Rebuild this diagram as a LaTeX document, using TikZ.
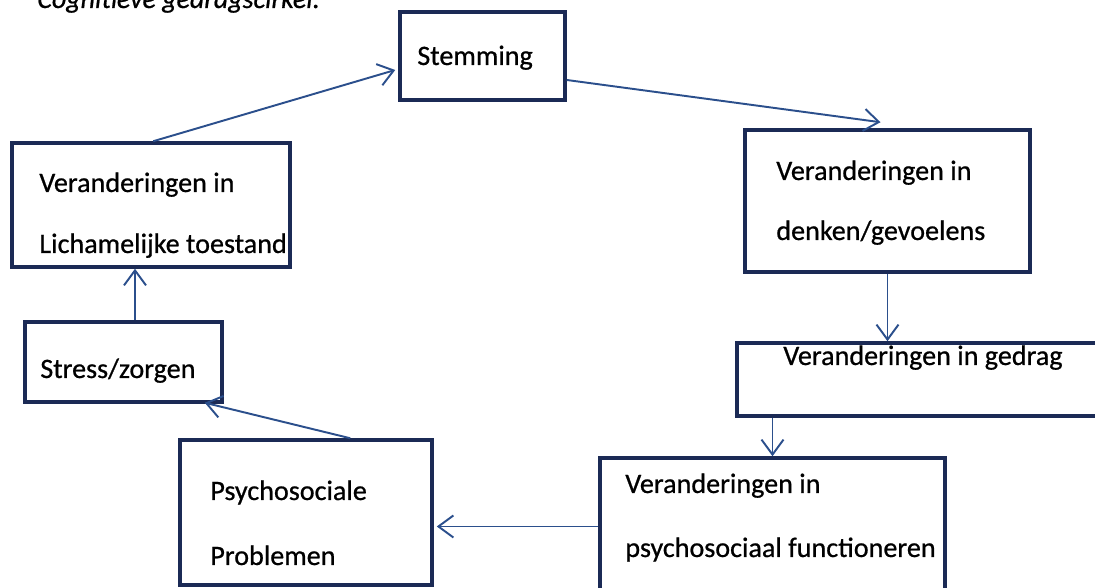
\documentclass[tikz,border=0pt]{standalone}
\usepackage{fontspec}
\setmainfont{Carlito}[FakeBold=0.7]
\usepackage{xcolor}
\usetikzlibrary{arrows.meta, positioning}
\definecolor{boxblue}{HTML}{1B2A55}
\definecolor{lineblue}{HTML}{2B4F8C}
\begin{document}
\begin{tikzpicture}[
    box/.style={rectangle, draw=boxblue, line width=2pt, inner sep=0pt},
    txt/.style={anchor=base west, inner sep=0pt, font=\fontsize{16}{19}\selectfont},
    flow/.style={-{Straight Barb[length=0.3cm, width=0.44cm]}, line width=1.1pt, lineblue}]
    \useasboundingbox (0,0) rectangle (21.9,11.76);
    \clip (0,0) rectangle (21.9,11.76);

    % title, cut off at the top
    \node[txt, font=\fontsize{15.9}{19}\selectfont\itshape] (title) at (0.74,11.6) {Cognitieve gedragscirkel:};

    % boxes
    \node[box, minimum width=3.3cm, minimum height=1.76cm] (stem) at (9.65,10.64) {};
    \node[box, minimum width=5.56cm, minimum height=2.48cm] (lich) at (3.02,7.66) {};
    \node[box, minimum width=5.7cm, minimum height=2.84cm] (denk) at (17.75,7.74) {};
    \node[box, minimum width=7.26cm, minimum height=1.46cm] (ged) at (18.37,4.17) {};
    \node[box, minimum width=3.94cm, minimum height=1.6cm] (stress) at (2.47,4.52) {};
    \node[box, minimum width=5.04cm, minimum height=2.9cm] (psy) at (6.12,1.51) {};
    \node[box, minimum width=6.9cm, minimum height=2.74cm] (soc) at (15.45,1.23) {};

    % texts
    \node[txt] (stemtxt) at (8.34,10.46) {Stemming};
    \node[txt] (lichtxta) at (0.78,7.92) {Veranderingen in};
    \node[txt] (lichtxtb) at (0.78,6.70) {Lichamelijke toestand};
    \node[txt] (denktxta) at (15.52,8.16) {Veranderingen in};
    \node[txt] (denktxtb) at (15.52,6.96) {denken/gevoelens};
    \node[txt] (gedtxt) at (15.66,4.46) {Veranderingen in gedrag};
    \node[txt] (stresstxt) at (0.8,4.2) {Stress/zorgen};
    \node[txt] (psytxta) at (4.2,1.76) {Psychosociale};
    \node[txt] (psytxtb) at (4.2,0.46) {Problemen};
    \node[txt] (soctxta) at (12.5,1.9) {Veranderingen in};
    \node[txt] (soctxtb) at (12.5,0.62) {psychosociaal functioneren};

    % arrows
    \coordinate (sa) at ([xshift=0.23cm]stress.north);
    \draw[flow] ([xshift=2.86cm]lich.north west) -- ([xshift=-0.06cm, yshift=-0.28cm]stem.west);
    \draw[flow] ([yshift=-0.48cm]stem.east) -- ([xshift=-0.14cm, yshift=0.12cm]denk.north);
    \draw[flow] (denk.south) -- (denk.south |- ged.north);
    \draw[flow] (soc.north |- ged.south) -- (soc.north);
    \draw[flow] (soc.west) -- ([xshift=0.06cm]psy.east |- soc.west);
    \draw[flow] ([xshift=3.44cm]psy.north west) -- ([xshift=-0.38cm, yshift=0.02cm]stress.south east);
    \draw[flow] (sa) -- (sa |- lich.south);
\end{tikzpicture}
\end{document}
